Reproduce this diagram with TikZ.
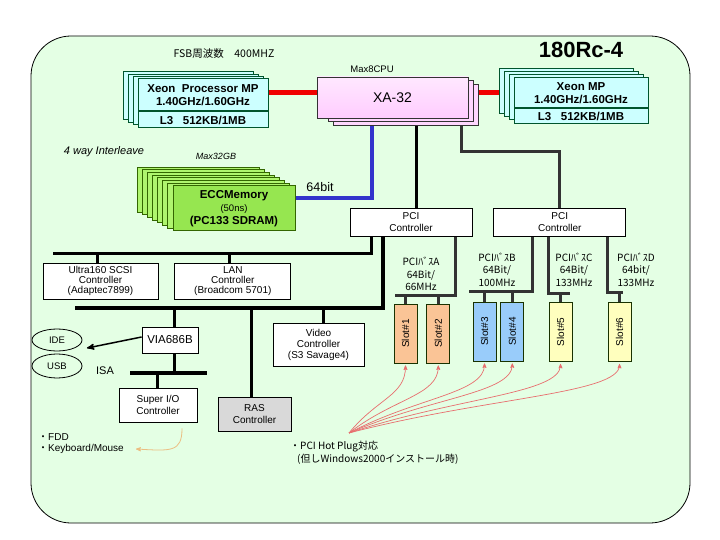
\documentclass[tikz,border=0pt]{standalone}
\usepackage{fontspec}
\setmainfont{Liberation Sans}
\newfontfamily\jp{Noto Sans CJK JP}
\usepackage{tikz}
\usetikzlibrary{arrows,fit,positioning,shapes.geometric,calc}

\definecolor{panel}{RGB}{228,255,228}
\definecolor{cpucyan}{RGB}{204,255,255}
\definecolor{cpuedge}{RGB}{0,85,45}
\definecolor{xapink}{RGB}{255,204,255}
\definecolor{memgreen}{RGB}{150,230,80}
\definecolor{memback}{RGB}{175,245,110}
\definecolor{memedge}{RGB}{51,102,0}
\definecolor{slotorange}{RGB}{250,196,150}
\definecolor{slotblue}{RGB}{153,204,250}
\definecolor{slotyellow}{RGB}{255,255,190}
\definecolor{slotedge}{RGB}{25,50,0}
\definecolor{rasgray}{RGB}{217,217,217}
\definecolor{fsbred}{RGB}{240,0,0}
\definecolor{memblue}{RGB}{51,51,204}
\definecolor{pcigray}{RGB}{51,51,51}
\definecolor{hpred}{RGB}{232,110,110}
\definecolor{kbtan}{RGB}{235,190,130}

\pgfdeclarelayer{bg}
\pgfdeclarelayer{wire}
\pgfsetlayers{bg,wire,main}

\tikzset{
    %Define standard arrow tip
    >=stealth',
    %Define style for boxes
    panelbox/.style={
           draw=black, line width=0.8pt,
           fill=panel,
           rounded corners=40pt},
    ctrl/.style={
           rectangle,
           draw=black, line width=0.8pt,
           fill=white,
           inner sep=0pt,
           font=\fontsize{10}{12}\selectfont,
           align=center},
    rasbox/.style={
           ctrl,
           fill=rasgray},
    cpu/.style={
           rectangle,
           draw=cpuedge, line width=1pt,
           fill=cpucyan,
           inner sep=0pt,
           font=\bfseries\fontsize{11.5}{13}\selectfont,
           align=center},
    cpulayer/.style={
           draw=cpuedge, line width=1pt,
           fill=cpucyan},
    xabox/.style={
           rectangle,
           draw=black!80, line width=0.8pt,
           top color=xapink!45!white, bottom color=xapink,
           inner sep=0pt,
           font=\fontsize{14}{16}\selectfont},
    xalayer/.style={
           draw=black!80, line width=0.8pt,
           fill=xapink!80!white},
    membox/.style={
           rectangle,
           draw=memedge, line width=1pt,
           fill=memgreen,
           inner sep=0pt,
           font=\bfseries\fontsize{11.5}{13}\selectfont,
           align=center},
    memlayer/.style={
           draw=memedge, line width=1pt,
           fill=memback},
    slotbox/.style={
           rectangle,
           draw=slotedge, line width=0.8pt,
           inner sep=0pt,
           minimum width=23pt,
           minimum height=59pt,
           font=\fontsize{10}{10}\selectfont},
    port/.style={
           ellipse,
           draw=black, line width=0.8pt,
           inner sep=0pt,
           minimum width=50pt,
           minimum height=22pt,
           font=\fontsize{9.5}{10}\selectfont},
    note/.style={
           inner sep=0pt,
           font=\fontsize{10}{12.5}\selectfont,
           align=center},
    % Define line styles
    bus/.style={line width=3pt, black},
    iobus/.style={line width=3.5pt, black},
    pcibus/.style={line width=3pt, pcigray},
    fsb/.style={line width=5pt, fsbred},
    membus/.style={line width=4pt, memblue},
    hotplug/.style={->, hpred, line width=0.7pt},
    kbarrow/.style={->, kbtan, line width=0.8pt},
    viaarrow/.style={->, black, line width=1.5pt}
}

\begin{document}
\begin{tikzpicture}[x=1pt,y=-1pt]
\useasboundingbox (0,0) rectangle (720,540);
\begin{pgfonlayer}{bg}
\draw[panelbox] (31,36) rectangle (690,523);
\end{pgfonlayer}

% headings
\node[font=\jp\fontsize{10.5}{12}\selectfont] (fsbnote) at (224,54) {FSB周波数　400MHZ};
\node[font=\bfseries\fontsize{22}{26}\selectfont] (title) at (581,50) {180Rc-4};
\node[note, font=\fontsize{9.5}{10}\selectfont] (maxcpu) at (372,69) {Max8CPU};

% processors
\foreach \k in {3,2,1}
    \draw[cpulayer] (138-5*\k,79-2.4*\k) rectangle ++(130,48);
\node[cpu, minimum width=130pt, minimum height=32pt] (xeonL) at (203,95) {Xeon\ \ Processor MP\\1.40GHz/1.60GHz};
\node[cpu, minimum width=130pt, minimum height=16pt, below=0pt of xeonL] (l3L) {L3\ \ \ 512KB/1MB};

\foreach \k in {3,2,1}
    \draw[cpulayer] (514-5*\k,78-3*\k) rectangle ++(134,45);
\node[cpu, minimum width=134pt, minimum height=30pt] (xeonR) at (581,93) {Xeon MP\\1.40GHz/1.60GHz};
\node[cpu, minimum width=134pt, minimum height=15pt, below=0pt of xeonR] (l3R) {L3\ \ \ 512KB/1MB};

\foreach \k in {2,1}
    \draw[xalayer] (323+5*\k,77+3.8*\k) rectangle (468+5*\k,118+3.6*\k);
\node[xabox, minimum width=151pt, minimum height=41pt] (xa) at (392.5,97.5) {XA-32};

% memory
\node[note, font=\itshape\fontsize{11}{12}\selectfont] (interleave) at (104,152) {4 way Interleave};
\node[note, font=\itshape\fontsize{9}{10}\selectfont] (maxmem) at (216,156) {Max32GB};
\foreach \k in {7,6,...,1}
    \draw[memlayer] (173-5.1*\k,186-2.7*\k) rectangle ++(122,45);
\node[membox, minimum width=122pt, minimum height=45pt] (mem) at (234,208.5) {ECCMemory\\{\mdseries\fontsize{9.5}{13}\selectfont(50ns)}\\(PC133 SDRAM)};
\node[note, font=\fontsize{12.5}{14}\selectfont] (width) at (320,187) {64bit};

% controllers
\node[ctrl, minimum width=122pt, minimum height=28pt] (pciL) at (411,222) {PCI\\Controller};
\node[ctrl, minimum width=132pt, minimum height=28pt, right=21pt of pciL] (pciR) {PCI\\Controller};
\node[ctrl, minimum width=115pt, minimum height=36pt, font=\fontsize{10}{9.8}\selectfont] (scsi) at (100.5,281) {Ultra160 SCSI\\Controller\\(Adaptec7899)};
\node[ctrl, minimum width=116pt, minimum height=36pt, font=\fontsize{10}{9.8}\selectfont, right=16pt of scsi] (lan) {LAN\\Controller\\(Broadcom 5701)};
\node[ctrl, minimum width=56pt, minimum height=26pt, font=\fontsize{11.5}{12}\selectfont] (via) at (170,340) {VIA686B};
\node[ctrl, minimum width=78pt, minimum height=34pt] (sio) at (158,405) {Super I/O\\Controller};
\node[rasbox, minimum width=73pt, minimum height=34pt, font=\fontsize{10}{11.5}\selectfont] (ras) at (254.5,414) {RAS\\Controller};
\node[ctrl, minimum width=91pt, minimum height=43pt, font=\fontsize{10}{11}\selectfont] (video) at (318.5,344.5) {Video\\Controller\\(S3 Savage4)};
\node[port] (ide) at (57,340) {IDE};
\node[port, minimum height=24pt] (usb) at (57,366) {USB};
\node[note, font=\fontsize{11}{12}\selectfont] (isa) at (105,371) {ISA};
\node[note, anchor=west] (fdd) at (38,437) {{\jp ・}FDD};
\node[note, anchor=west] (kbd) at (38,449) {{\jp ・}Keyboard/Mouse};

% slots
\node[slotbox, fill=slotorange] (slot1) at (405.5,333.5) {\rotatebox{90}{Slot\#1}};
\node[slotbox, fill=slotorange, right=9pt of slot1] (slot2) {\rotatebox{90}{Slot\#2}};
\node[slotbox, fill=slotblue] (slot3) at (484.5,331.5) {\rotatebox{90}{Slot\#3}};
\node[slotbox, fill=slotblue, right=4pt of slot3] (slot4) {\rotatebox{90}{Slot\#4}};
\node[slotbox, fill=slotyellow] (slot5) at (560.5,332) {\rotatebox{90}{Slot\#5}};
\node[slotbox, fill=slotyellow] (slot6) at (619.5,332) {\rotatebox{90}{Slot\#6}};
\node[note, font=\jp\fontsize{10}{12.5}\selectfont] (busA) at (421,274) {PCIﾊﾞｽA\\64Bit/\\66MHz};
\node[note, font=\jp\fontsize{10}{12.5}\selectfont] (busB) at (497,269.5) {PCIﾊﾞｽB\\64Bit/\\100MHz};
\node[note, font=\jp\fontsize{10}{12.5}\selectfont] (busC) at (574,269.5) {PCIﾊﾞｽC\\64Bit/\\133MHz};
\node[note, font=\jp\fontsize{10}{12.5}\selectfont] (busD) at (636,269.5) {PCIﾊﾞｽD\\64bit/\\133MHz};
\node[note, anchor=west, font=\jp\fontsize{10}{11}\selectfont] (hpnote) at (290,447) {・PCI Hot Plug対応};
\node[note, anchor=west, font=\jp\fontsize{10}{11}\selectfont] (hpcond) at (297,459) {(但しWindows2000インストール時)};
\coordinate (hp) at (349,433);

% connectors
\begin{pgfonlayer}{wire}
\draw[fsb] ([yshift=2pt]xeonL.east) -- ([yshift=2pt]xeonL.east -| xa.west);
\draw[fsb] ([yshift=4.5pt]xa.east) -- ([yshift=4.5pt]xa.east -| xeonR.west);
\draw[membus] ([yshift=10pt]mem.east) -| ([xshift=-20.5pt]xa.south);
\draw[bus] ([xshift=5pt]pciL.north) -- ([xshift=5pt]pciL.north |- xa.south);
\draw[pcibus] ([xshift=68.5pt]xa.south) -- ++(0,33) -| (pciR.north);
\coordinate (lanbus) at (53,253);
\draw[bus] ([xshift=-40pt]pciL.south) |- (lanbus);
\draw[bus] ([xshift=-3.5pt]scsi.north) -- ++(0,-10);
\draw[bus] ([xshift=-3pt]lan.north) -- ++(0,-10);
\coordinate (iobusL) at (75,308);
\draw[iobus] ([xshift=-28pt]pciL.south) |- (iobusL);
\draw[bus] ([xshift=4pt]via.north) -- ++(0,-19);
\draw[bus] ([xshift=4pt]via.south) -- ++(0,20);
\coordinate (isaL) at (130,373);
\coordinate (isaR) at (207,373);
\draw[iobus] (isaL) -- (isaR);
\draw[bus] ([xshift=-1pt]sio.north) -- ++(0,-15);
\draw[bus] ([xshift=-3.5pt]ras.north) -- ++(0,-89);
\draw[bus] ([xshift=4.5pt]video.north) -- ++(0,-15);
\draw[viaarrow] ([yshift=3pt]via.west) -- ([xshift=12pt]ide.south east);
% PCI buses
\draw[pcibus] ([xshift=44pt]pciL.south) |- ([xshift=-10.5pt,yshift=8pt]slot1.north);
\draw[pcibus] (slot1.north) -- ++(0,-8) (slot2.north) -- ++(0,-8);
\draw[pcibus] ([xshift=-27pt]pciR.south) |- ([xshift=-15.5pt,yshift=10pt]slot3.north);
\draw[pcibus] (slot3.north) -- ++(0,-10) (slot4.north) -- ++(0,-10);
\draw[pcibus] ([xshift=-11pt]pciR.south) |- ([xshift=9.5pt,yshift=9pt]slot5.north);
\draw[pcibus] (slot5.north) -- ++(0,-9);
\draw[pcibus] ([xshift=48pt]pciR.south) |- ([xshift=3.5pt,yshift=10pt]slot6.north);
\draw[pcibus] (slot6.north) -- ++(0,-10);
\end{pgfonlayer}

% hot plug
\foreach \s in {1,...,6}
    \draw[hotplug] (hp) .. controls ($(hp)!0.5!(slot\s.south)$) and ([yshift=-32pt]slot\s.south) .. ([yshift=-2pt]slot\s.south);
\draw[kbarrow] ([xshift=24pt,yshift=-6pt]sio.south) .. controls +(0,24) and +(35,2) .. ([xshift=12pt]kbd.east);
\end{tikzpicture}
\end{document}
